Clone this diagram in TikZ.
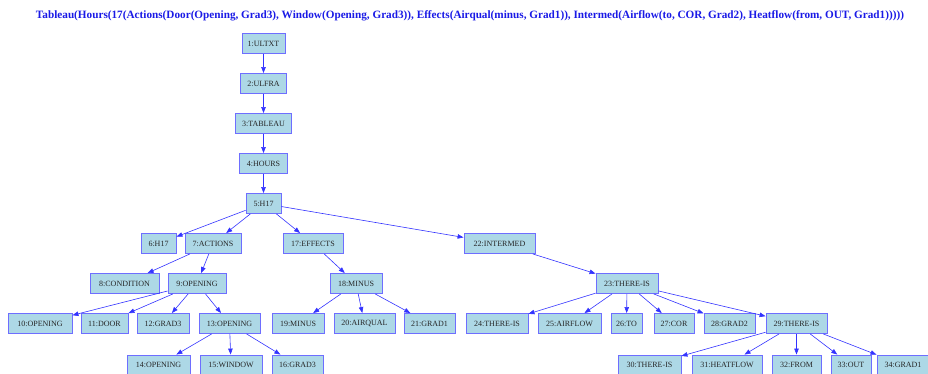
\documentclass[tikz,border=0pt]{standalone}
\usepackage{fontspec}
\setmainfont{Liberation Serif}
\usetikzlibrary{arrows.meta}
\definecolor{boxfill}{HTML}{ADD8E6}
\definecolor{boxline}{HTML}{6E6EFF}
\definecolor{edgecol}{HTML}{3333FF}
\definecolor{titlecol}{HTML}{1A1AE6}
\begin{document}
\begin{tikzpicture}[x=1pt,y=-1pt,
  box/.style={draw=boxline, fill=boxfill, line width=0.9pt, inner sep=0pt,
    minimum height=20pt, font=\fontsize{8}{9}\selectfont, text=black!85},
  edge/.style={draw=edgecol, line width=0.6pt, -{Triangle[length=6pt,width=4.5pt]}}]
\useasboundingbox (0,0) rectangle (928,374);
\clip (0,0) rectangle (928,374);
\node[font=\bfseries, text=titlecol, inner sep=0pt] (title) at (470,16)
  {\resizebox{868pt}{!}{Tableau(Hours(17(Actions(Door(Opening, Grad3), Window(Opening, Grad3)), Effects(Airqual(minus, Grad1)), Intermed(Airflow(to, COR, Grad2), Heatflow(from, OUT, Grad1)))))}};
% rows
\node[box, minimum width=43pt] (n1) at (263.5,43.5) {1:ULTXT};
\node[box, minimum width=46pt] (n2) at (263.5,83.5) {2:ULFRA};
\node[box, minimum width=56pt] (n3) at (263.5,123.5) {3:TABLEAU};
\node[box, minimum width=48pt] (n4) at (263.5,163.5) {4:HOURS};
\node[box, minimum width=35pt] (n5) at (263.5,203.5) {5:H17};
\node[box, minimum width=35pt] (n6) at (158.5,243.5) {6:H17};
\node[box, minimum width=56pt] (n7) at (213,243.5) {7:ACTIONS};
\node[box, minimum width=60pt] (n17) at (313,243.5) {17:EFFECTS};
\node[box, minimum width=71pt] (n22) at (499.5,243.5) {22:INTERMED};
\node[box, minimum width=69pt] (n8) at (124.5,283.5) {8:CONDITION};
\node[box, minimum width=58pt] (n9) at (197,283.5) {9:OPENING};
\node[box, minimum width=52pt] (n18) at (356,283.5) {18:MINUS};
\node[box, minimum width=62pt] (n23) at (627,283.5) {23:THERE-IS};
\node[box, minimum width=64pt] (n10) at (40,323.5) {10:OPENING};
\node[box, minimum width=47pt] (n11) at (104.5,323.5) {11:DOOR};
\node[box, minimum width=52pt] (n12) at (163,323.5) {12:GRAD3};
\node[box, minimum width=61pt] (n13) at (229.5,323.5) {13:OPENING};
\node[box, minimum width=52pt] (n19) at (298,323.5) {19:MINUS};
\node[box, minimum width=61pt] (n20) at (364.5,323.5) {20:AIRQUAL};
\node[box, minimum width=51pt] (n21) at (429.5,323.5) {21:GRAD1};
\node[box, minimum width=62pt] (n24) at (497,323.5) {24:THERE-IS};
\node[box, minimum width=63pt] (n25) at (569.5,323.5) {25:AIRFLOW};
\node[box, minimum width=31pt] (n26) at (626.5,323.5) {26:TO};
\node[box, minimum width=40pt] (n27) at (674,323.5) {27:COR};
\node[box, minimum width=51pt] (n28) at (729.5,323.5) {28:GRAD2};
\node[box, minimum width=61pt] (n29) at (796.5,323.5) {29:THERE-IS};
\node[box, minimum width=63pt] (n14) at (158.5,365) {14:OPENING};
\node[box, minimum width=62pt] (n15) at (231,365) {15:WINDOW};
\node[box, minimum width=51pt] (n16) at (297.5,365) {16:GRAD3};
\node[box, minimum width=63pt] (n30) at (649.5,365) {30:THERE-IS};
\node[box, minimum width=70pt] (n31) at (727,365) {31:HEATFLOW};
\node[box, minimum width=49pt] (n32) at (796.5,365) {32:FROM};
\node[box, minimum width=40pt] (n33) at (851,365) {33:OUT};
\node[box, minimum width=52pt] (n34) at (903,365) {34:GRAD1};
% edges
\foreach \a/\b in {n1/n2,n2/n3,n3/n4,n4/n5,n5/n6,n5/n7,n5/n17,n5/n22,
  n7/n8,n7/n9,n9/n10,n9/n11,n9/n12,n9/n13,n13/n14,n13/n15,n13/n16,
  n17/n18,n18/n19,n18/n20,n18/n21,n22/n23,n23/n24,n23/n25,n23/n26,n23/n27,
  n23/n28,n23/n29,n29/n30,n29/n31,n29/n32,n29/n33,n29/n34}
  \draw[edge] (\a) -- (\b);
\end{tikzpicture}
\end{document}
